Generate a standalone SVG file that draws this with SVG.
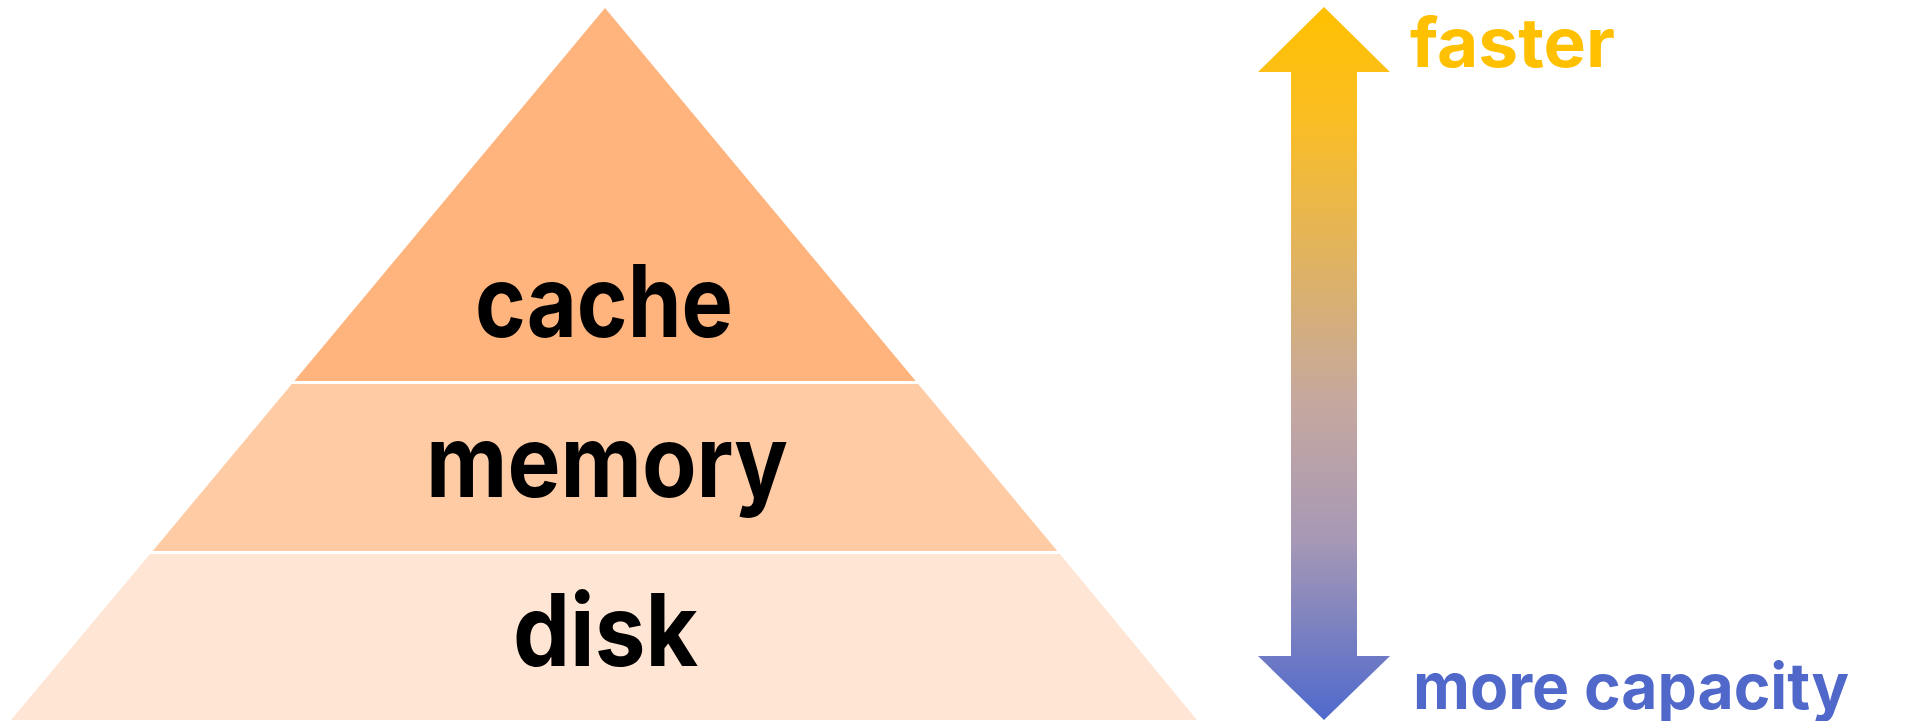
<svg xmlns="http://www.w3.org/2000/svg" width="1916" height="721" viewBox="0 0 1916 721">
<style>
.lbl{font-family:Inter,"Open Sans","Liberation Sans",sans-serif;font-weight:700;text-anchor:middle;fill:#000}
.side{font-family:Inter,"Open Sans","Liberation Sans",sans-serif;font-weight:700}
</style>
<defs>
<linearGradient id="grad" gradientUnits="userSpaceOnUse" x1="0" y1="7" x2="0" y2="720">
<stop offset="0" stop-color="#FFC000"/>
<stop offset="0.15" stop-color="#FBBE22"/>
<stop offset="0.55" stop-color="#C6A89E"/>
<stop offset="0.75" stop-color="#A698B6"/>
<stop offset="1" stop-color="#4F69CC"/>
</linearGradient>
</defs>
<rect width="1916" height="721" fill="#fff"/>
<g id="cache">
<polygon points="605,8 915.7,381 294.3,381" fill="#FFB47D"/>
<text class="lbl" x="604" y="337" font-size="100" textLength="258" lengthAdjust="spacingAndGlyphs">cache</text>
</g>
<g id="memory">
<polygon points="291.8,384 918.2,384 1057.3,551 152.7,551" fill="#FFCBA4"/>
<text class="lbl" x="607" y="497" font-size="100" textLength="362" lengthAdjust="spacingAndGlyphs">memory</text>
</g>
<g id="disk">
<polygon points="150,554 1060,554 1197,720 11,720" fill="#FFE5D4"/>
<text class="lbl" x="605.5" y="666" font-size="100" textLength="185" lengthAdjust="spacingAndGlyphs">disk</text>
</g>
<g id="connectors">
<polygon points="1324,7 1390,72 1357,72 1357,656 1390,656 1324,720 1258,656 1291,656 1291,72 1258,72" fill="url(#grad)"/>
</g>
<g id="faster">
<text class="side" x="1410" y="67" font-size="68" fill="#FFC000" textLength="205" lengthAdjust="spacingAndGlyphs">faster</text>
</g>
<g id="more-capacity">
<text class="side" x="1413" y="709" font-size="64" fill="#5068CA" textLength="436" lengthAdjust="spacingAndGlyphs">more capacity</text>
</g>
</svg>
